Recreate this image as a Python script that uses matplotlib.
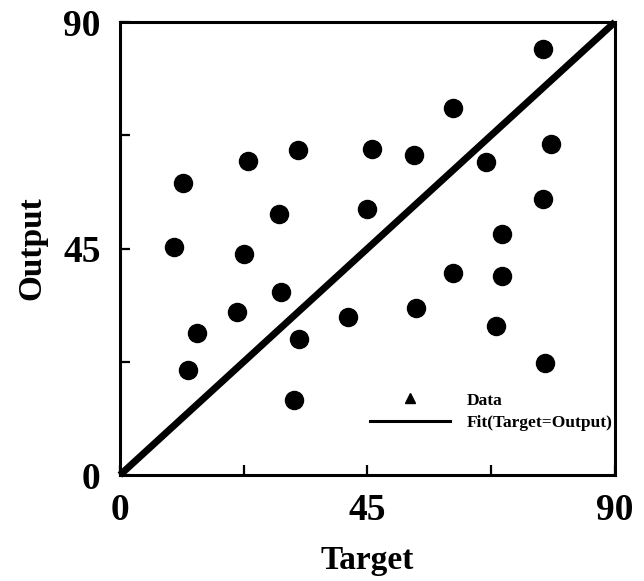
import matplotlib
matplotlib.use("Agg")
import matplotlib.pyplot as plt
from matplotlib.lines import Line2D

plt.rcParams['font.family'] = ['Liberation Serif', 'DejaVu Serif']
plt.rcParams['font.weight'] = 'bold'

# valeurs
target = [9.9, 11.5, 12.3, 14.0, 21.2, 22.6, 23.3, 29.0, 29.3, 31.7, 32.3, 32.5,
          41.4, 44.9, 45.8, 53.5, 53.8, 60.6, 60.6, 66.5, 68.3, 69.4, 69.5,
          76.9, 77.0, 77.3, 78.4]
output = [45.4, 58.0, 20.9, 28.3, 32.3, 43.9, 62.4, 51.9, 36.4, 14.9, 64.6, 27.0,
          31.3, 52.8, 64.8, 63.5, 33.1, 72.9, 40.1, 62.2, 29.6, 39.5, 47.8,
          84.6, 54.8, 22.3, 65.7]
fit_x = [0, 90]
major_ticks = [0, 45, 90]
minor_ticks = [22.5, 67.5]

fig = plt.figure(figsize=(6.44, 5.81), dpi=100)
ax = fig.add_axes([0.1863, 0.1824, 0.7686, 0.7797])

ax.plot(target, output, 'o', color='black', markersize=13, linestyle='none')
ax.plot(fit_x, fit_x, color='black', linewidth=5, solid_capstyle='butt', clip_on=False)

ax.set_xlim(0, 90)
ax.set_ylim(0, 90)
ax.set_xticks(major_ticks)
ax.set_yticks(major_ticks)
ax.set_xticks(minor_ticks, minor=True)
ax.set_yticks(minor_ticks, minor=True)
ax.tick_params(which='both', direction='in', length=7, width=1.6,
               top=False, right=False)
ax.tick_params(axis='x', which='major', labelsize=27, pad=13)
ax.tick_params(axis='y', which='major', labelsize=27, pad=14)
for lab in ax.get_xticklabels() + ax.get_yticklabels():
    lab.set_fontweight('bold')

for sp in ax.spines.values():
    sp.set_linewidth(2.2)

ax.set_xlabel('Target', fontsize=24, fontweight='bold', labelpad=12)
ax.set_ylabel('Output', fontsize=24, fontweight='bold', labelpad=11)

handles = [
    Line2D([], [], marker='^', color='black', linestyle='none', markersize=7),
    Line2D([], [], color='black', linewidth=2.2),
]
ax.legend(handles, ['Data', 'Fit(Target=Output)'], loc='center left',
          bbox_to_anchor=(0.505, 0.140), frameon=False, borderpad=0,
          borderaxespad=0, handlelength=4.6, handletextpad=1.0,
          labelspacing=0.35, prop={'size': 12.5, 'weight': 'bold'})

fig.savefig('out.png', dpi=100)
